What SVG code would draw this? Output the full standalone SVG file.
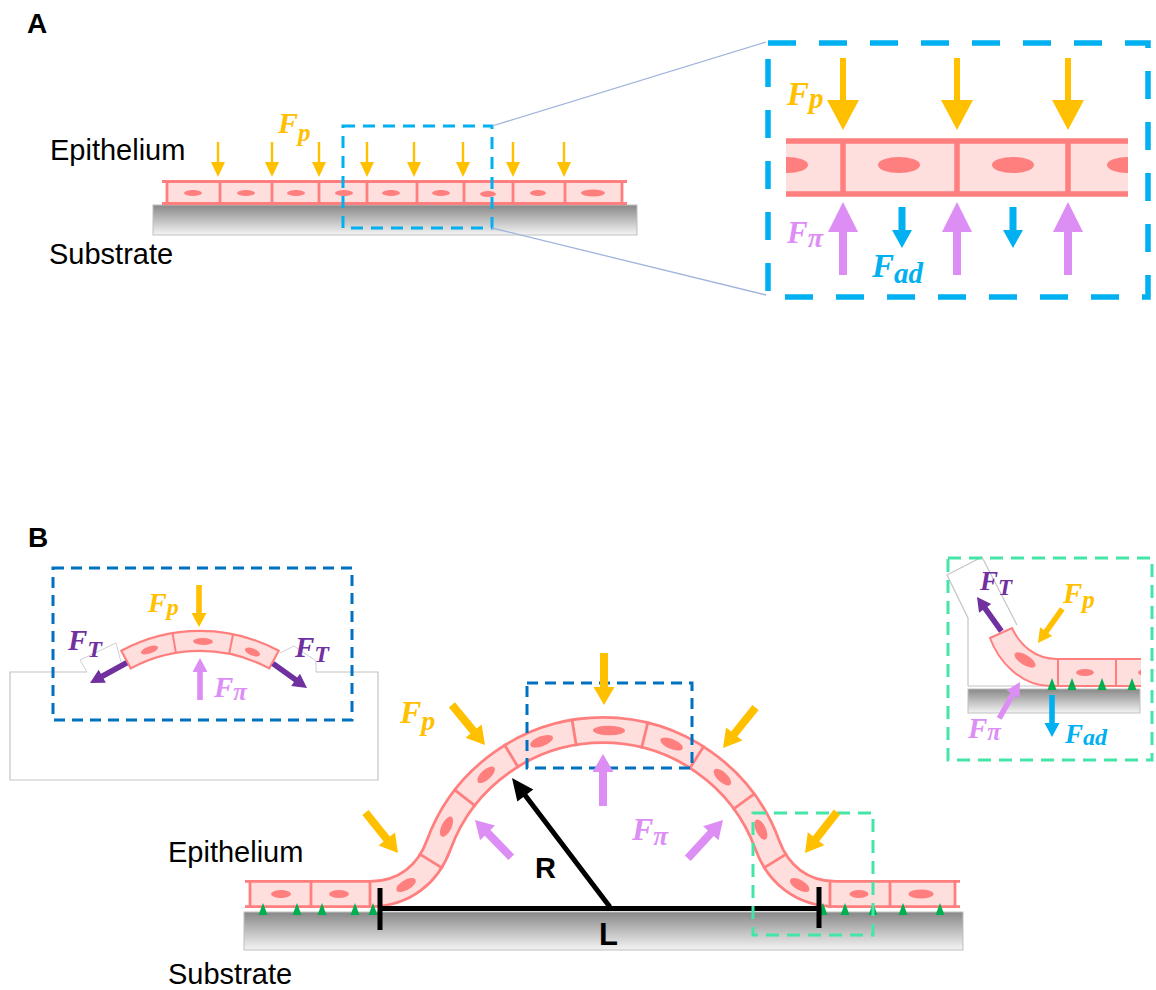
<svg xmlns="http://www.w3.org/2000/svg" xmlns:xlink="http://www.w3.org/1999/xlink" width="1156" height="990" viewBox="0 0 1156 990">
<style>
.lbl{font-family:"Liberation Sans",Arial,sans-serif;font-size:29px;fill:#000}
.pan{font-family:"Liberation Sans",Arial,sans-serif;font-weight:bold;fill:#000}
.f{font-family:"Liberation Serif","Times New Roman",serif;font-style:italic;font-weight:bold}
.yel{fill:#ffc000}
.pur{fill:#dd8ef5}
.dpur{fill:#7030a0}
.blu{fill:#00b0f0}
.sub{fill:url(#gsub);stroke:#bfbfbf;stroke-width:1}
.wall{stroke:#ff7f7f;fill:none}
.nuc{fill:#ff7f7f}
.cell{fill:#ffdede}
.frame{fill:none;stroke:#c4c4c4}
.dash-a{fill:none;stroke:#00b0f0;stroke-width:3;stroke-dasharray:12 8}
.dash-b{fill:none;stroke:#0070c0;stroke-width:3;stroke-dasharray:11 7}
.dash-g{fill:none;stroke:#44e6a8;stroke-width:3;stroke-dasharray:13 8}
.tri{fill:#00b050}
</style>
<defs>
  <linearGradient id="gsub" x1="0" y1="0" x2="0" y2="1">
    <stop offset="0" stop-color="#888888"/>
    <stop offset="1" stop-color="#f4f4f4"/>
  </linearGradient>
  <!-- arrow shapes, tip at origin -->
  <path id="aA" d="M-1.2,-35 V-15 H-7 L0,0 L7,-15 H1.2 V-35 Z"/>
  <path id="aIY" d="M-3,-72 V-30 H-16 L0,0 L16,-30 H3 V-72 Z"/>
  <path id="aIP" d="M-4,73 V30 H-15 L0,0 L15,30 H4 V73 Z"/>
  <path id="aIB" d="M-3.5,-41 V-18 H-10 L0,0 L10,-18 H3.5 V-41 Z"/>
  <path id="aBig" d="M-52,-4 H-18 V-10.5 L0,0 L-18,10.5 V4 H-52 Z"/>
  <path id="aSm" d="M-42,-2.8 H-14 V-7.5 L0,0 L-14,7.5 V2.8 H-42 Z"/>
  <polygon id="tri" points="-4.5,0 0,-12 4.5,0"/>
  <clipPath id="clipInsetA"><rect x="786" y="130" width="342" height="80"/></clipPath>
  <clipPath id="clipInsetB"><rect x="940" y="550" width="201" height="200"/></clipPath>
</defs>

<rect width="1156" height="990" fill="#ffffff"/>

<!-- ===================== Panel A ===================== -->
<text class="pan" x="27" y="33" font-size="28">A</text>
<text class="lbl" x="50" y="160">Epithelium</text>
<text class="lbl" x="49" y="264">Substrate</text>

<g id="a-substrate">
  <rect class="sub" x="153" y="205" width="484" height="30"/>
</g>

<g id="a-epithelium">
  <rect class="cell" x="167" y="182" width="455" height="22"/>
  <path class="wall" style="stroke-width:3" d="M162,181.5H627 M162,203.5H627"/>
  <path class="wall" style="stroke-width:2.8" d="M167,181.5V203.5 M220,181.5V203.5 M272,181.5V203.5 M319,181.5V203.5 M367,181.5V203.5 M417,181.5V203.5 M464,181.5V203.5 M513,181.5V203.5 M565,181.5V203.5 M622,181.5V203.5"/>
  <ellipse class="nuc" cx="193" cy="193" rx="9" ry="3"/>
  <ellipse class="nuc" cx="246" cy="193" rx="9" ry="3"/>
  <ellipse class="nuc" cx="296" cy="193" rx="9" ry="3"/>
  <ellipse class="nuc" cx="344" cy="193" rx="9" ry="3"/>
  <ellipse class="nuc" cx="391" cy="193" rx="9" ry="3"/>
  <ellipse class="nuc" cx="441" cy="193" rx="9" ry="3"/>
  <ellipse class="nuc" cx="488" cy="194" rx="8" ry="3"/>
  <ellipse class="nuc" cx="538" cy="193" rx="8" ry="3"/>
  <ellipse class="nuc" cx="593" cy="193" rx="12" ry="3.5"/>
</g>

<g id="a-forces" class="yel">
  <use href="#aA" x="218" y="177"/>
  <use href="#aA" x="272" y="177"/>
  <use href="#aA" x="319" y="177"/>
  <use href="#aA" x="367" y="177"/>
  <use href="#aA" x="414" y="177"/>
  <use href="#aA" x="463" y="177"/>
  <use href="#aA" x="513" y="177"/>
  <use href="#aA" x="564" y="177"/>
</g>
<text class="f yel" x="278" y="133" font-size="30">F<tspan font-size="25" dy="8">p</tspan></text>

<g id="a-zoom">
  <rect class="dash-a" x="343" y="126" width="149" height="102"/>
  <line x1="492" y1="126" x2="766" y2="42" stroke="#9fb4dc" stroke-width="1.3"/>
  <line x1="492" y1="228" x2="766" y2="295" stroke="#9fb4dc" stroke-width="1.3"/>
</g>

<!-- magnified view -->
<g id="a-inset">
  <g clip-path="url(#clipInsetA)">
    <rect class="cell" x="786" y="141" width="342" height="53"/>
    <ellipse class="nuc" cx="787" cy="165" rx="21" ry="8"/>
    <ellipse class="nuc" cx="899" cy="165" rx="21" ry="8"/>
    <ellipse class="nuc" cx="1013" cy="165" rx="21" ry="8"/>
    <ellipse class="nuc" cx="1128" cy="165" rx="21" ry="8"/>
    <path class="wall" style="stroke-width:5.5" d="M786,141H1128 M786,194H1128 M843,141V194 M957,141V194 M1068,141V194"/>
  </g>
  <g class="yel">
    <use href="#aIY" x="843" y="130"/>
    <use href="#aIY" x="957" y="130"/>
    <use href="#aIY" x="1068" y="130"/>
  </g>
  <g class="pur">
    <use href="#aIP" x="843" y="202"/>
    <use href="#aIP" x="957" y="202"/>
    <use href="#aIP" x="1068" y="202"/>
  </g>
  <g class="blu">
    <use href="#aIB" x="902" y="248"/>
    <use href="#aIB" x="1013" y="248"/>
  </g>
  <text class="f yel" x="787" y="105" font-size="33">F<tspan font-size="29" dy="3">p</tspan></text>
  <text class="f pur" x="787" y="243" font-size="31">F<tspan font-size="28" dy="4">π</tspan></text>
  <text class="f blu" x="872" y="277" font-size="33">F<tspan font-size="29" dy="6">ad</tspan></text>
  <rect x="768" y="43" width="380" height="254" fill="none" stroke="#00b0f0" stroke-width="5.5" stroke-dasharray="28 23"/>
</g>

<!-- ===================== Panel B ===================== -->
<text class="pan" x="28" y="547" font-size="28">B</text>
<text class="lbl" x="168" y="862">Epithelium</text>
<text class="lbl" x="168" y="984">Substrate</text>

<g id="b-substrate">
  <rect class="sub" x="244" y="912" width="719" height="38"/>
</g>

<g id="b-epithelium">
  <path d="M250,894 H370 C405,894 428.3,873.3 438.6,845.1 A175,175 0 0 1 767.4,845.1 C777.7,873.3 801,894 836,894 H955" fill="none" stroke="#ff7f7f" stroke-width="28"/>
  <path d="M250,894 H370 C405,894 428.3,873.3 438.6,845.1 A175,175 0 0 1 767.4,845.1 C777.7,873.3 801,894 836,894 H955" fill="none" stroke="#ffdede" stroke-width="22.5"/>
  <path class="wall" style="stroke-width:2.8" d="M245,881.3H250 M245,906.7H250 M955,881.3H960 M955,906.7H960"/>
  <path class="wall" style="stroke-width:2.8" d="M250,880V908 M311,880V908 M370,880V908 M830,880V908 M890,880V908 M955,880V908
    M419,853.6L442.8,868.4 M453.7,789.2L475.8,806.3 M504,744L518.6,767.9 M571.8,718.6L576.4,746.2
    M648.1,721.5L641.4,748.7 M704.3,745.4L689.3,769.1 M755.3,793.1L732.7,809.7 M787,853.6L763.2,868.4"/>
  <ellipse class="nuc" cx="281" cy="894" rx="10" ry="4"/>
  <ellipse class="nuc" cx="339" cy="894" rx="10" ry="4"/>
  <ellipse class="nuc" cx="859" cy="894" rx="9.5" ry="4"/>
  <ellipse class="nuc" cx="921" cy="894" rx="12.5" ry="4.5"/>
  <ellipse class="nuc" cx="0" cy="0" rx="11" ry="5" transform="translate(406,885) rotate(-30)"/>
  <ellipse class="nuc" cx="0" cy="0" rx="11" ry="5" transform="translate(446.5,826.7) rotate(-63.4)"/>
  <ellipse class="nuc" cx="0" cy="0" rx="11" ry="5" transform="translate(486.1,774.8) rotate(-41.9)"/>
  <ellipse class="nuc" cx="0" cy="0" rx="12" ry="5" transform="translate(541.6,741.2) rotate(-20.5)"/>
  <ellipse class="nuc" cx="0" cy="0" rx="16" ry="4.8" transform="translate(609,730.5) rotate(1)"/>
  <ellipse class="nuc" cx="0" cy="0" rx="12" ry="5" transform="translate(671.6,744) rotate(23.1)"/>
  <ellipse class="nuc" cx="0" cy="0" rx="11" ry="5" transform="translate(722.4,777.1) rotate(43)"/>
  <ellipse class="nuc" cx="0" cy="0" rx="11" ry="5" transform="translate(760.9,829.6) rotate(64.5)"/>
  <ellipse class="nuc" cx="0" cy="0" rx="11" ry="5" transform="translate(799.7,885) rotate(30)"/>
</g>

<g id="b-adhesions" class="tri">
  <use href="#tri" x="263" y="915"/>
  <use href="#tri" x="297" y="915"/>
  <use href="#tri" x="322" y="915"/>
  <use href="#tri" x="355" y="915"/>
  <use href="#tri" x="373" y="915"/>
  <use href="#tri" x="823" y="915"/>
  <use href="#tri" x="845" y="915"/>
  <use href="#tri" x="873" y="915"/>
  <use href="#tri" x="903" y="915"/>
  <use href="#tri" x="940" y="915"/>
</g>

<g id="b-geometry">
  <path d="M380,908.5H819 M380,888V930 M819,887V928" stroke="#000" stroke-width="5" fill="none"/>
  <path d="M-162,-2.5 H-22 V-10 L0,0 L-22,10 V2.5 H-162 Z" fill="#000" transform="translate(512,778) rotate(-127.2)"/>
  <text class="pan" x="535" y="878" font-size="29">R</text>
  <text class="pan" x="599" y="945" font-size="31">L</text>
</g>

<g id="b-boxes">
  <rect class="dash-b" x="527" y="683" width="165" height="85"/>
  <rect class="dash-g" x="753" y="813" width="120" height="122"/>
</g>

<g id="b-forces">
  <g class="yel">
    <use href="#aBig" transform="translate(604,705) rotate(90)"/>
    <use href="#aBig" transform="translate(485,745) rotate(50.5)"/>
    <use href="#aBig" transform="translate(398,853) rotate(51.3)"/>
    <use href="#aBig" transform="translate(723,748) rotate(128.7)"/>
    <use href="#aBig" transform="translate(805,853) rotate(128)"/>
  </g>
  <g class="pur">
    <use href="#aBig" transform="translate(603,754) rotate(-90)"/>
    <use href="#aBig" transform="translate(475,820) rotate(-134.2)"/>
    <use href="#aBig" transform="translate(723,820) rotate(-47.4)"/>
  </g>
  <text class="f yel" x="400" y="723" font-size="32">F<tspan font-size="28" dy="7">p</tspan></text>
  <text class="f pur" x="632" y="840" font-size="32">F<tspan font-size="27" dy="5">π</tspan></text>
</g>

<!-- left detail: apex cells under tension -->
<g id="b-inset-apex">
  <path class="frame" style="stroke-width:1.2" d="M87,672 H10 V780 H378 V672 H316"/>
  <polygon points="80,660 116,643 121,664 87,672" fill="#fff"/>
  <polygon points="280,653 294,646 316,661 316,672 298,672" fill="#fff"/>
  <path class="frame" style="stroke-width:0.8" d="M87,672 L80,660 L116,643 L121,662 M280,653 L294,646 L316,661 L316,672"/>
  <path class="cell" style="stroke:#ff7f7f;stroke-width:2.2" d="M121.3,650.8 A166,166 0 0 1 278.7,650.8 L269.2,668.4 A146,146 0 0 0 130.8,668.4 Z"/>
  <path class="wall" style="stroke-width:2" d="M172.6,633.3L175.9,653 M233.1,634.3L229.1,653.9"/>
  <ellipse class="nuc" cx="0" cy="0" rx="9" ry="3.5" transform="translate(149.5,650) rotate(-19)"/>
  <ellipse class="nuc" cx="0" cy="0" rx="10" ry="3.5" transform="translate(203,641.5) rotate(1)"/>
  <ellipse class="nuc" cx="0" cy="0" rx="8" ry="3.5" transform="translate(252.5,652) rotate(22)"/>
  <use href="#aSm" class="yel" transform="translate(199,627) rotate(90)"/>
  <use href="#aSm" class="pur" transform="translate(200,658) rotate(-90)"/>
  <use href="#aSm" class="dpur" transform="translate(90,683) rotate(151.1)"/>
  <use href="#aSm" class="dpur" transform="translate(307,688) rotate(35.7)"/>
  <text class="f yel" x="148" y="612" font-size="28">F<tspan font-size="24" dy="3">p</tspan></text>
  <text class="f dpur" x="68" y="650" font-size="29">F<tspan font-size="24" dy="7">T</tspan></text>
  <text class="f dpur" x="295" y="657" font-size="29">F<tspan font-size="24" dy="5">T</tspan></text>
  <text class="f pur" x="214" y="697" font-size="29">F<tspan font-size="25" dy="3">π</tspan></text>
  <rect class="dash-b" x="53" y="568" width="299" height="152"/>
</g>

<!-- right detail: edge cells -->
<g id="b-inset-edge">
  <path class="frame" style="stroke-width:1.2" d="M968,686 V618 L947,575 L982,557 L1017,625 M968,686 H1140 V658"/>
  <rect class="sub" x="968" y="689" width="172" height="24"/>
  <g clip-path="url(#clipInsetB)">
    <path class="cell" style="stroke:#ff7f7f;stroke-width:2" d="M990,638 L1012,628 C1020,645 1035,659 1057,659 H1146 V686 H1050 C1020,686 998,660 990,638 Z"/>
    <path class="wall" style="stroke-width:2" d="M1058,659V686 M1116,659V686"/>
    <ellipse class="nuc" cx="1085" cy="672.5" rx="9" ry="3.5"/>
    <ellipse class="nuc" cx="1146" cy="672.5" rx="8" ry="3.5"/>
    <ellipse class="nuc" cx="0" cy="0" rx="12" ry="5" transform="translate(1025,660) rotate(32)"/>
  </g>
  <use href="#tri" class="tri" x="1052" y="690"/>
  <use href="#tri" class="tri" x="1072" y="690"/>
  <use href="#tri" class="tri" x="1102" y="690"/>
  <use href="#tri" class="tri" x="1132" y="690"/>
  <use href="#aSm" class="dpur" transform="translate(977,597) rotate(-125.5)"/>
  <use href="#aSm" class="yel" transform="translate(1038,643) rotate(125.4)"/>
  <use href="#aSm" class="pur" transform="translate(1020,682) rotate(-60.3)"/>
  <use href="#aSm" class="blu" transform="translate(1052,737) rotate(90)"/>
  <text class="f dpur" x="980" y="590" font-size="27">F<tspan font-size="23" dy="5">T</tspan></text>
  <text class="f yel" x="1063" y="603" font-size="29">F<tspan font-size="25" dy="5">p</tspan></text>
  <text class="f pur" x="968" y="738" font-size="29">F<tspan font-size="25" dy="2">π</tspan></text>
  <text class="f blu" x="1065" y="743" font-size="27">F<tspan font-size="24" dy="2">ad</tspan></text>
  <rect class="dash-g" x="948" y="558" width="204" height="202"/>
</g>
</svg>
